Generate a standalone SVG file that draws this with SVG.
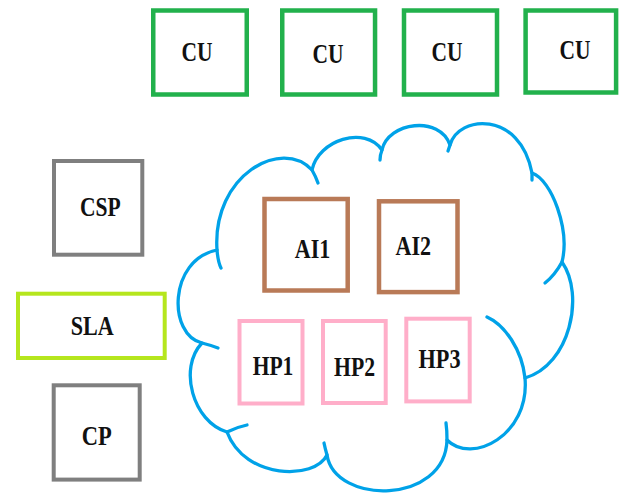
<svg xmlns="http://www.w3.org/2000/svg" width="622" height="495" viewBox="0 0 622 495">
  <style>
    .box { fill: #ffffff; }
    .cu { stroke: #22b14c; stroke-width: 4.5; }
    .gray { stroke: #7f7f7f; stroke-width: 4; }
    .sla { stroke: #b5e61d; stroke-width: 4; }
    .ai { stroke: #b97a57; stroke-width: 4.5; }
    .hp { stroke: #ffaec9; stroke-width: 4; }
    .cloud { fill: none; stroke: #00a2e8; stroke-width: 3.3; stroke-linecap: round; stroke-linejoin: round; }
    .lbl { font-family: "Liberation Serif", "Times New Roman", serif; font-weight: bold; font-size: 28px; fill: #111111; text-anchor: middle; }
  </style>

  <rect width="622" height="495" fill="#ffffff"/>

  <!-- cloud outline with its inner lobe arcs -->
  <g id="cloud">
    <path class="cloud" d="M202,343 C168,335 168,260 217,250 C212,175 282,137 312,170 C318,140 365,125 382,150 C388,122 440,115 450,145 C458,115 520,110 532,173 C552,180 570,230 562,262 C585,295 570,365 525,378 C530,435 472,465 447,440 C445,505 335,505 327,455 C315,480 245,480 227,432 C193,422 178,368 202,343 Z"/>
    <path class="cloud" d="M217,250 Q218,262 221,268"/>
    <path class="cloud" d="M312,170 Q316,177 318,183"/>
    <path class="cloud" d="M382,150 Q380,155 380,160"/>
    <path class="cloud" d="M450,145 L448,151"/>
    <path class="cloud" d="M532,173 L532,180"/>
    <path class="cloud" d="M562,262 Q555,275 545,283"/>
    <path class="cloud" d="M487,317 C505,325 522,350 525,378"/>
    <path class="cloud" d="M447,440 Q447,430 446,423"/>
    <path class="cloud" d="M327,455 Q325,448 324,443"/>
    <path class="cloud" d="M227,432 Q237,427 247,425"/>
    <path class="cloud" d="M202,343 Q210,345 218,348"/>
  </g>

  <!-- consumer nodes along the top -->
  <g id="cu1">
    <rect class="box cu" x="153.25" y="10.5" width="93.5" height="84"/>
    <text class="lbl" x="197" y="61" textLength="31" lengthAdjust="spacingAndGlyphs">CU</text>
  </g>
  <g id="cu2">
    <rect class="box cu" x="282.25" y="10.5" width="92.8" height="84"/>
    <text class="lbl" x="328" y="63" textLength="31" lengthAdjust="spacingAndGlyphs">CU</text>
  </g>
  <g id="cu3">
    <rect class="box cu" x="404" y="10.5" width="93" height="84"/>
    <text class="lbl" x="447" y="61" textLength="31" lengthAdjust="spacingAndGlyphs">CU</text>
  </g>
  <g id="cu4">
    <rect class="box cu" x="525.6" y="10.5" width="90.5" height="82"/>
    <text class="lbl" x="575" y="59" textLength="31" lengthAdjust="spacingAndGlyphs">CU</text>
  </g>

  <!-- provider side -->
  <g id="csp">
    <rect class="box gray" x="54" y="161" width="88.3" height="93.7"/>
    <text class="lbl" x="100.3" y="215.5" textLength="40.7" lengthAdjust="spacingAndGlyphs">CSP</text>
  </g>
  <g id="sla">
    <rect class="box sla" x="18" y="293.7" width="146.7" height="64.3"/>
    <text class="lbl" x="92.3" y="335" textLength="43" lengthAdjust="spacingAndGlyphs">SLA</text>
  </g>
  <g id="cp">
    <rect class="box gray" x="53.7" y="385.3" width="86" height="94.3"/>
    <text class="lbl" x="96.7" y="445" textLength="30" lengthAdjust="spacingAndGlyphs">CP</text>
  </g>

  <!-- resources inside the cloud -->
  <g id="ai1">
    <rect class="box ai" x="264.5" y="199" width="83.2" height="91.5"/>
    <text class="lbl" x="312.5" y="258.3" textLength="35.5" lengthAdjust="spacingAndGlyphs">AI1</text>
  </g>
  <g id="ai2">
    <rect class="box ai" x="379" y="201.3" width="78.5" height="90.8"/>
    <text class="lbl" x="413.3" y="255" textLength="35.5" lengthAdjust="spacingAndGlyphs">AI2</text>
  </g>
  <g id="hp1">
    <rect class="box hp" x="239.5" y="321" width="63" height="82.5"/>
    <text class="lbl" x="273" y="375" textLength="40.7" lengthAdjust="spacingAndGlyphs">HP1</text>
  </g>
  <g id="hp2">
    <rect class="box hp" x="323" y="321" width="62.7" height="82"/>
    <text class="lbl" x="354.5" y="376" textLength="41" lengthAdjust="spacingAndGlyphs">HP2</text>
  </g>
  <g id="hp3">
    <rect class="box hp" x="406.3" y="318.7" width="63.4" height="82.7"/>
    <text class="lbl" x="439.5" y="368.3" textLength="42" lengthAdjust="spacingAndGlyphs">HP3</text>
  </g>
</svg>
